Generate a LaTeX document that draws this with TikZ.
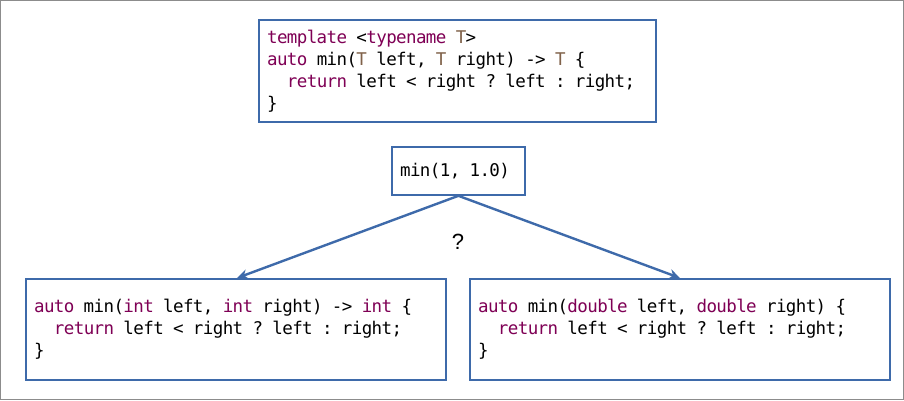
\documentclass[tikz,border=0pt]{standalone}
\usepackage{fontspec}
\newfontfamily\codefont{DejaVu Sans Mono}
\newfontfamily\qfont{Liberation Sans}
\usetikzlibrary{arrows.meta}
\definecolor{kw}{RGB}{127,0,85}
\definecolor{tp}{RGB}{128,98,74}
\definecolor{bd}{RGB}{62,106,170}
\definecolor{fr}{RGB}{140,140,140}
\makeatletter
\def\spacemark{~}
\newcommand{\cP}[1]{\@tfor\cx:=#1\do{\ifx\cx\spacemark\makebox[9.93pt]{}\else\makebox[9.93pt][c]{\cx}\fi}}
\makeatother
\newcommand{\cK}[1]{\textcolor{kw}{\cP{#1}}}
\newcommand{\cT}[1]{\textcolor{tp}{\cP{#1}}}
\begin{document}
\begin{tikzpicture}[x=1pt,y=-1pt,
  codebox/.style={draw=bd,line width=1.8pt,fill=white,inner xsep=8.5pt,inner ysep=0pt,
    align=left,font=\codefont\fontsize{17.5}{22}\selectfont,anchor=north west},
  conn/.style={draw=bd,line width=2.4pt,-{Stealth[length=11pt,width=10pt]}}]
\path[use as bounding box] (0,0) rectangle (904,400);
\draw[fr,line width=1pt] (0.5,0.5) rectangle (903.5,399.5);
\node[codebox,minimum width=397pt,minimum height=102pt,text width=380pt] (tmpl) at (258,19)
 {\cK{template}\cP{~<}\cK{typename}\cP{~}\cT{T}\cP{>}\\
  \cK{auto}\cP{~min(}\cT{T}\cP{~left,~}\cT{T}\cP{~right)~->~}\cT{T}\cP{~\{}\\
  \cP{~~}\cK{return}\cP{~left~<~right~?~left~:~right;}\\
  \cP{\}}};
\node[codebox,minimum width=133pt,minimum height=48pt,text width=116pt] (call) at (391,146)
 {\cP{min(1,~1.0)}};
\node[codebox,minimum width=420pt,minimum height=101pt,text width=403pt] (lbox) at (25,278)
 {\cK{auto}\cP{~min(}\cK{int}\cP{~left,~}\cK{int}\cP{~right)~->~}\cK{int}\cP{~\{}\\
  \cP{~~}\cK{return}\cP{~left~<~right~?~left~:~right;}\\
  \cP{\}}};
\node[codebox,minimum width=420pt,minimum height=101pt,text width=403pt] (rbox) at (469,278)
 {\cK{auto}\cP{~min(}\cK{double}\cP{~left,~}\cK{double}\cP{~right)~\{}\\
  \cP{~~}\cK{return}\cP{~left~<~right~?~left~:~right;}\\
  \cP{\}}};
\coordinate (lt) at (237,278);
\coordinate (rt) at (680,278);
\draw[conn] (call.south) -- (lt);
\draw[conn] (call.south) -- (rt);
\node[font=\qfont\fontsize{22}{26}\selectfont] (q) at (458,242) {?};
\end{tikzpicture}
\end{document}
